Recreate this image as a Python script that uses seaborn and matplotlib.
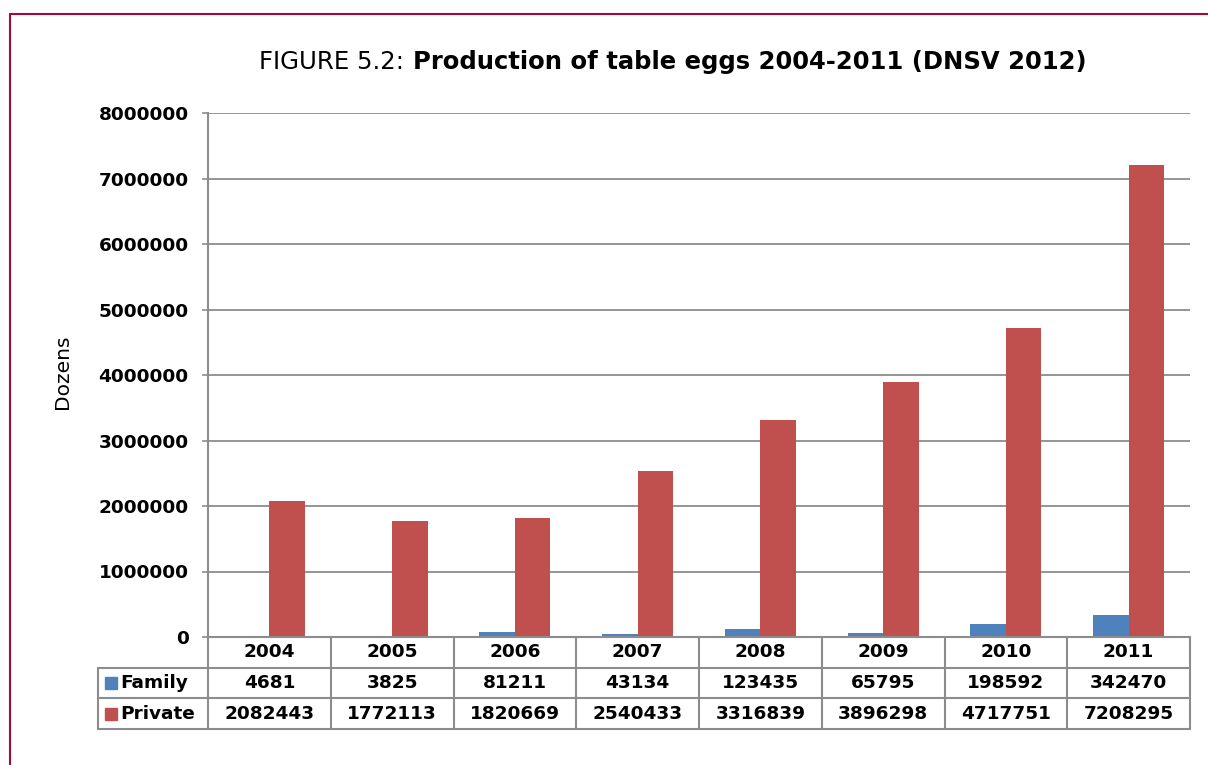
import pandas as pd
import matplotlib.pyplot as plt
import matplotlib.transforms as mtransforms
from matplotlib.patches import Rectangle
import seaborn as sns

# Data (dozens of table eggs)
years = ['2004', '2005', '2006', '2007', '2008', '2009', '2010', '2011']
family = [4681, 3825, 81211, 43134, 123435, 65795, 198592, 342470]
private = [2082443, 1772113, 1820669, 2540433, 3316839, 3896298, 4717751, 7208295]
series_names = ['Family', 'Private']
colors = ['#4F81BD', '#C0504D']
y_ticks = [0, 1000000, 2000000, 3000000, 4000000, 5000000, 6000000, 7000000, 8000000]

df = pd.DataFrame({
    'Year': years * 2,
    'Dozens': family + private,
    'Series': ['Family'] * len(years) + ['Private'] * len(years),
})

sns.set_style('white')
plt.rcParams['font.family'] = ['DejaVu Sans']
plt.rcParams['text.color'] = 'black'
plt.rcParams['ytick.labelcolor'] = 'black'

fig = plt.figure(figsize=(12.08, 7.65), dpi=100)
ax = fig.add_axes([208 / 1208, 1 - 637 / 765, 982 / 1208, 524 / 765])

sns.barplot(data=df, x='Year', y='Dozens', hue='Series', palette=colors, saturation=1,
            width=0.58, linewidth=0, legend=False, ax=ax)

grid_col = '#8C8C8C'
fs = 13.3
ax.set_xlim(-0.5, len(years) - 0.5)
ax.set_ylim(0, 8000000)
ax.set_yticks(y_ticks)
ax.set_yticklabels([str(t) for t in y_ticks], fontsize=fs, fontweight='bold', color='black')
ax.tick_params(axis='y', length=4, width=1.2, color=grid_col, pad=10, left=True)
ax.tick_params(axis='x', bottom=False, labelbottom=False)
ax.set_xlabel('')
ax.set_ylabel('')
ax.yaxis.grid(True, color=grid_col, linewidth=1.3)
ax.set_axisbelow(True)
for side in ['top', 'right']:
    ax.spines[side].set_visible(False)
for side in ['left', 'bottom']:
    ax.spines[side].set_color(grid_col)
    ax.spines[side].set_linewidth(1.5)

# Data table under the plot
trans = mtransforms.blended_transform_factory(ax.transData, ax.transAxes)
row_h = 0.0586
n = len(years)
hdr_left = -0.5 - 110 / 122.75
lk = dict(color=grid_col, lw=1.5, transform=trans, clip_on=False)

for i in range(n + 1):
    ax.plot([i - 0.5, i - 0.5], [0, -3 * row_h], **lk)
ax.plot([hdr_left, hdr_left], [-row_h, -3 * row_h], **lk)
ax.plot([hdr_left, n - 0.5], [-row_h, -row_h], **lk)
ax.plot([hdr_left, n - 0.5], [-2 * row_h, -2 * row_h], **lk)
ax.plot([hdr_left, n - 0.5], [-3 * row_h, -3 * row_h], **lk)

tk = dict(ha='center', va='center', fontsize=fs, fontweight='bold',
          transform=trans, clip_on=False)
for i, yr in enumerate(years):
    ax.text(i, -0.5 * row_h, yr, **tk)
    ax.text(i, -1.5 * row_h, str(family[i]), **tk)
    ax.text(i, -2.5 * row_h, str(private[i]), **tk)

for r, (name, col) in enumerate(zip(series_names, colors)):
    yc = -(r + 1.5) * row_h
    ax.plot([-0.5 - 97 / 122.75], [yc], marker='s', markersize=8, color=col,
            transform=trans, clip_on=False, linestyle='none')
    ax.text(-0.5 - 88 / 122.75, yc, name, ha='left', va='center', fontsize=fs,
            fontweight='bold', transform=trans, clip_on=False)

# Title in two weights
fig.text(404 / 1208, 1 - 62 / 765, 'FIGURE 5.2:', ha='right', va='center', fontsize=17.6)
fig.text(413 / 1208, 1 - 62 / 765, 'Production of table eggs 2004-2011 (DNSV 2012)',
         ha='left', va='center', fontsize=17.5, fontweight='bold')

fig.text(63 / 1208, 1 - 372 / 765, 'Dozens', rotation=90, ha='center', va='center', fontsize=14.5)

# Frame around the figure (cut off at right and bottom)
fig.patches.append(Rectangle((10 / 1208, -0.1), 1.2, 1 - 14 / 765 + 0.1, transform=fig.transFigure,
                             fill=False, edgecolor='#A00A3C', linewidth=1.5))

fig.savefig('out.png', dpi=100)
